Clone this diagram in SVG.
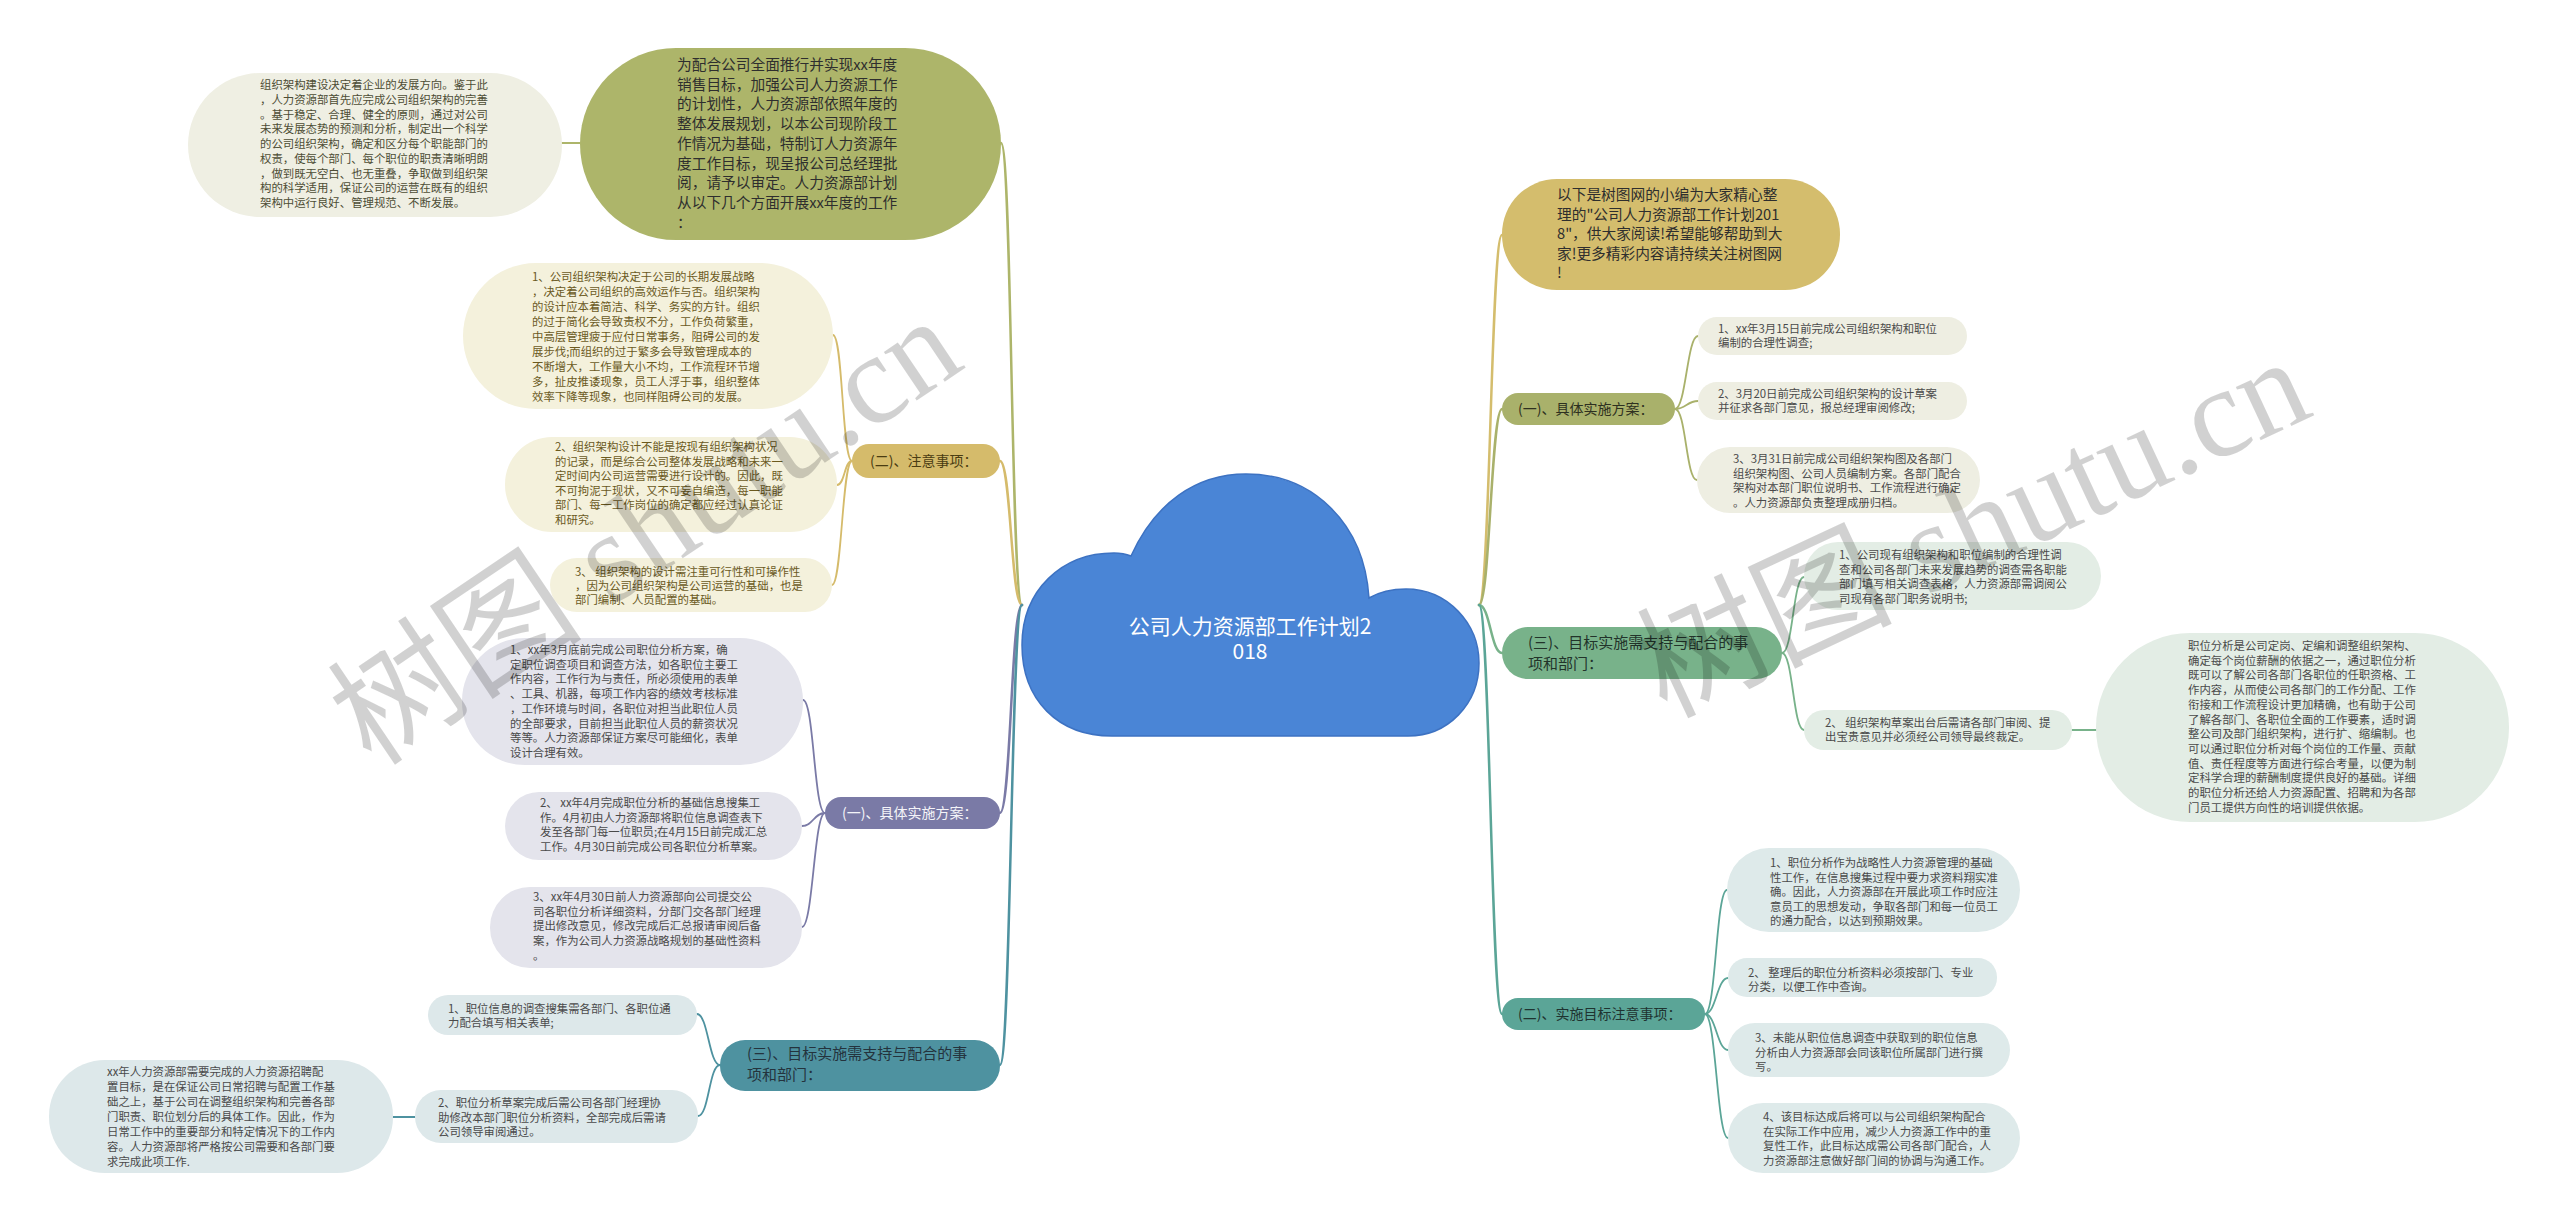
<svg xmlns="http://www.w3.org/2000/svg" width="2560" height="1223" viewBox="0 0 2560 1223">
<style>
text{font-family:"Noto Sans CJK SC","Noto Sans",sans-serif;}
.s{font-size:11.4px;fill:#4a4a4a;}
.n{font-size:11.4px;fill:#6b5a1e;}
.b{font-size:14.7px;fill:#2e2e2e;}
.lb{font-size:14px;}
.l3{font-size:15px;}
.c{fill:none;stroke-linecap:round;}
.m{stroke-width:2.5;}
.t{stroke-width:1.8;}
.wm{font-family:"Liberation Serif","Noto Sans CJK SC",serif;fill:#000;fill-opacity:0.18;}
</style>
<rect width="2560" height="1223" fill="#ffffff"/>
<g id="connectors">
<path class="c m" stroke="#adb56a" d="M1022 605 C1011 605 1012 143 1001 143"/>
<path class="c m" stroke="#d5bb6b" d="M1022 605 C1011 605 1011 461 1000 461"/>
<path class="c m" stroke="#7a7aa6" d="M1022 605 C1011 605 1011 813 1000 813"/>
<path class="c m" stroke="#4e92a0" d="M1022 605 C1011 605 1011 1065 1000 1065"/>
<path class="c m" stroke="#d4bd6d" d="M1479 605 C1490 605 1491 235 1502 235"/>
<path class="c m" stroke="#a9b16b" d="M1479 605 C1490 605 1491 409 1502 409"/>
<path class="c m" stroke="#78b28a" d="M1479 605 C1490 605 1491 653 1502 653"/>
<path class="c m" stroke="#5ba597" d="M1479 605 C1490 605 1491 1014 1502 1014"/>
<path class="c t" stroke="#adb56a" d="M562 143 L580 143"/>
<path class="c t" stroke="#d5bb6b" d="M852 461 C842 461 843 335 833 335"/>
<path class="c t" stroke="#d5bb6b" d="M852 461 C844 461 845 485 837 485"/>
<path class="c t" stroke="#d5bb6b" d="M852 461 C842 461 842 585 832 585"/>
<path class="c t" stroke="#7a7aa6" d="M825 813 C814 813 814 700 803 700"/>
<path class="c t" stroke="#7a7aa6" d="M825 813 C814 813 813 826 802 826"/>
<path class="c t" stroke="#7a7aa6" d="M825 813 C814 813 813 927 802 927"/>
<path class="c t" stroke="#4e92a0" d="M720 1065 C709 1065 708 1014 697 1014"/>
<path class="c t" stroke="#4e92a0" d="M720 1065 C709 1065 709 1116 698 1116"/>
<path class="c t" stroke="#4e92a0" d="M393 1117 L415 1117"/>
<path class="c t" stroke="#a9b16b" d="M1675 409 C1686 409 1687 336 1698 336"/>
<path class="c t" stroke="#a9b16b" d="M1675 409 C1686 409 1687 401 1698 401"/>
<path class="c t" stroke="#a9b16b" d="M1675 409 C1686 409 1686 480 1697 480"/>
<path class="c t" stroke="#78b28a" d="M1782 653 C1793 653 1793 577 1804 577"/>
<path class="c t" stroke="#78b28a" d="M1782 653 C1793 653 1793 730 1804 730"/>
<path class="c t" stroke="#78b28a" d="M2072 730 L2096 730"/>
<path class="c t" stroke="#5ba597" d="M1705 1014 C1716 1014 1716 890 1727 890"/>
<path class="c t" stroke="#5ba597" d="M1705 1014 C1716 1014 1717 978 1728 978"/>
<path class="c t" stroke="#5ba597" d="M1705 1014 C1716 1014 1717 1050 1728 1050"/>
<path class="c t" stroke="#5ba597" d="M1705 1014 C1716 1014 1717 1138 1728 1138"/>
</g>
<g id="root">
<path d="M1112 736 C1058 736 1022 700 1022 645 C1022 590 1062 553 1114 553 C1120 553 1126 554 1131 556 C1155 503 1196 474 1246 474 C1312 474 1364 522 1369 598 C1381 591 1394 589 1406 589 C1448 589 1479 624 1479 663 C1479 704 1448 736 1408 736 Z" fill="#4a85d6" stroke="#3d72c2" stroke-width="1.5"/>
<text x="1250" y="634" text-anchor="middle" style="font-size:21px;fill:#ffffff;">公司人力资源部工作计划2</text>
<text x="1250" y="659" text-anchor="middle" style="font-size:21px;fill:#ffffff;">018</text>
</g>
<g id="n-intro-left">
<rect x="188" y="73" width="374" height="144" rx="72" fill="#efefe3"/>
<text class="s" style="fill:#4d4d35"><tspan x="260" y="89">组织架构建设决定着企业的发展方向。鉴于此</tspan><tspan x="260" y="103.8">，人力资源部首先应完成公司组织架构的完善</tspan><tspan x="260" y="118.5">。基于稳定、合理、健全的原则，通过对公司</tspan><tspan x="260" y="133.3">未来发展态势的预测和分析，制定出一个科学</tspan><tspan x="260" y="148">的公司组织架构，确定和区分每个职能部门的</tspan><tspan x="260" y="162.8">权责，使每个部门、每个职位的职责清晰明朗</tspan><tspan x="260" y="177.5">，做到既无空白、也无重叠，争取做到组织架</tspan><tspan x="260" y="192.3">构的科学适用，保证公司的运营在既有的组织</tspan><tspan x="260" y="207">架构中运行良好、管理规范、不断发展。</tspan></text>
</g>
<g id="n-preface">
<rect x="580" y="48" width="421" height="192" rx="96" fill="#adb56a"/>
<text class="b"><tspan x="677" y="70">为配合公司全面推行并实现xx年度</tspan><tspan x="677" y="89.7">销售目标，加强公司人力资源工作</tspan><tspan x="677" y="109.4">的计划性，人力资源部依照年度的</tspan><tspan x="677" y="129.1">整体发展规划，以本公司现阶段工</tspan><tspan x="677" y="148.8">作情况为基础，特制订人力资源年</tspan><tspan x="677" y="168.5">度工作目标，现呈报公司总经理批</tspan><tspan x="677" y="188.2">阅，请予以审定。人力资源部计划</tspan><tspan x="677" y="207.9">从以下几个方面开展xx年度的工作</tspan><tspan x="677" y="227.6">：</tspan></text>
</g>
<g id="n-notes">
<rect x="852" y="444" width="148" height="34" rx="17" fill="#d5bb6b"/>
<text class="lb" x="870" y="466" style="fill:#4a3c12">(二)、注意事项：</text>
</g>
<g id="n-notes-1">
<rect x="463" y="263" width="370" height="146" rx="73" fill="#f4f1dc"/>
<text class="n"><tspan x="532" y="281">1、公司组织架构决定于公司的长期发展战略</tspan><tspan x="532" y="296">，决定着公司组织的高效运作与否。组织架构</tspan><tspan x="532" y="311">的设计应本着简洁、科学、务实的方针。组织</tspan><tspan x="532" y="326">的过于简化会导致责权不分，工作负荷繁重，</tspan><tspan x="532" y="341">中高层管理疲于应付日常事务，阻碍公司的发</tspan><tspan x="532" y="356">展步伐;而组织的过于繁多会导致管理成本的</tspan><tspan x="532" y="371">不断增大，工作量大小不均，工作流程环节增</tspan><tspan x="532" y="386">多，扯皮推诿现象，员工人浮于事，组织整体</tspan><tspan x="532" y="401">效率下降等现象，也同样阻碍公司的发展。</tspan></text>
</g>
<g id="n-notes-2">
<rect x="505" y="437" width="332" height="95" rx="47" fill="#f4f1dc"/>
<text class="n"><tspan x="555" y="451">2、组织架构设计不能是按现有组织架构状况</tspan><tspan x="555" y="465.6">的记录，而是综合公司整体发展战略和未来一</tspan><tspan x="555" y="480.2">定时间内公司运营需要进行设计的。因此，既</tspan><tspan x="555" y="494.8">不可拘泥于现状，又不可妄自编造，每一职能</tspan><tspan x="555" y="509.4">部门、每一工作岗位的确定都应经过认真论证</tspan><tspan x="555" y="524">和研究。</tspan></text>
</g>
<g id="n-notes-3">
<rect x="550" y="558" width="282" height="54" rx="27" fill="#f4f1dc"/>
<text class="n"><tspan x="575" y="576">3、 组织架构的设计需注重可行性和可操作性</tspan><tspan x="575" y="590">，因为公司组织架构是公司运营的基础，也是</tspan><tspan x="575" y="604">部门编制、人员配置的基础。</tspan></text>
</g>
<g id="n-plan-left">
<rect x="825" y="797" width="175" height="32" rx="16" fill="#7a7aa6"/>
<text class="lb" x="842" y="818" style="fill:#f4f4f8">(一)、具体实施方案：</text>
</g>
<g id="n-plan-left-1">
<rect x="462" y="638" width="341" height="127" rx="63" fill="#e4e4ec"/>
<text class="s"><tspan x="510" y="654">1、xx年3月底前完成公司职位分析方案，确</tspan><tspan x="510" y="668.7">定职位调查项目和调查方法，如各职位主要工</tspan><tspan x="510" y="683.4">作内容，工作行为与责任，所必须使用的表单</tspan><tspan x="510" y="698.1">、工具、机器，每项工作内容的绩效考核标准</tspan><tspan x="510" y="712.8">，工作环境与时间，各职位对担当此职位人员</tspan><tspan x="510" y="727.5">的全部要求，目前担当此职位人员的薪资状况</tspan><tspan x="510" y="742.2">等等。人力资源部保证方案尽可能细化，表单</tspan><tspan x="510" y="756.9">设计合理有效。</tspan></text>
</g>
<g id="n-plan-left-2">
<rect x="505" y="792" width="297" height="68" rx="34" fill="#e4e4ec"/>
<text class="s"><tspan x="540" y="807">2、 xx年4月完成职位分析的基础信息搜集工</tspan><tspan x="540" y="821.7">作。4月初由人力资源部将职位信息调查表下</tspan><tspan x="540" y="836.4">发至各部门每一位职员;在4月15日前完成汇总</tspan><tspan x="540" y="851.1">工作。4月30日前完成公司各职位分析草案。</tspan></text>
</g>
<g id="n-plan-left-3">
<rect x="490" y="887" width="312" height="81" rx="40" fill="#e4e4ec"/>
<text class="s"><tspan x="533" y="901">3、xx年4月30日前人力资源部向公司提交公</tspan><tspan x="533" y="915.7">司各职位分析详细资料，分部门交各部门经理</tspan><tspan x="533" y="930.4">提出修改意见，修改完成后汇总报请审阅后备</tspan><tspan x="533" y="945.1">案，作为公司人力资源战略规划的基础性资料</tspan><tspan x="533" y="959.8">。</tspan></text>
</g>
<g id="n-support-left">
<rect x="720" y="1040" width="280" height="51" rx="25" fill="#4e92a0"/>
<text class="l3" style="fill:#24333d"><tspan x="747" y="1059">(三)、目标实施需支持与配合的事</tspan><tspan x="747" y="1080">项和部门：</tspan></text>
</g>
<g id="n-support-left-1">
<rect x="428" y="995" width="269" height="40" rx="20" fill="#dde8ea"/>
<text class="s"><tspan x="448" y="1013">1、职位信息的调查搜集需各部门、各职位通</tspan><tspan x="448" y="1027">力配合填写相关表单;</tspan></text>
</g>
<g id="n-support-left-2">
<rect x="415" y="1090" width="283" height="53" rx="26" fill="#dde8ea"/>
<text class="s"><tspan x="438" y="1107">2、职位分析草案完成后需公司各部门经理协</tspan><tspan x="438" y="1121.5">助修改本部门职位分析资料，全部完成后需请</tspan><tspan x="438" y="1136">公司领导审阅通过。</tspan></text>
</g>
<g id="n-support-left-2a">
<rect x="49" y="1060" width="344" height="113" rx="56" fill="#dde8ea"/>
<text class="s"><tspan x="107" y="1076">xx年人力资源部需要完成的人力资源招聘配</tspan><tspan x="107" y="1091">置目标，是在保证公司日常招聘与配置工作基</tspan><tspan x="107" y="1106">础之上，基于公司在调整组织架构和完善各部</tspan><tspan x="107" y="1121">门职责、职位划分后的具体工作。因此，作为</tspan><tspan x="107" y="1136">日常工作中的重要部分和特定情况下的工作内</tspan><tspan x="107" y="1151">容。人力资源部将严格按公司需要和各部门要</tspan><tspan x="107" y="1166">求完成此项工作.</tspan></text>
</g>
<g id="n-intro-right">
<rect x="1502" y="179" width="338" height="111" rx="55" fill="#d4bd6d"/>
<text class="b"><tspan x="1557" y="200">以下是树图网的小编为大家精心整</tspan><tspan x="1557" y="219.6">理的"公司人力资源部工作计划201</tspan><tspan x="1557" y="239.2">8"，供大家阅读!希望能够帮助到大</tspan><tspan x="1557" y="258.8">家!更多精彩内容请持续关注树图网</tspan><tspan x="1557" y="278.4">!</tspan></text>
</g>
<g id="n-plan-right">
<rect x="1502" y="393" width="173" height="32" rx="16" fill="#a9b16b"/>
<text class="lb" x="1518" y="414" style="fill:#2e3020">(一)、具体实施方案：</text>
</g>
<g id="n-plan-right-1">
<rect x="1698" y="317" width="269" height="38" rx="19" fill="#eeeee2"/>
<text class="s"><tspan x="1718" y="333">1、xx年3月15日前完成公司组织架构和职位</tspan><tspan x="1718" y="347">编制的合理性调查;</tspan></text>
</g>
<g id="n-plan-right-2">
<rect x="1698" y="382" width="269" height="38" rx="19" fill="#eeeee2"/>
<text class="s"><tspan x="1718" y="398">2、3月20日前完成公司组织架构的设计草案</tspan><tspan x="1718" y="412">并征求各部门意见，报总经理审阅修改;</tspan></text>
</g>
<g id="n-plan-right-3">
<rect x="1697" y="447" width="283" height="66" rx="33" fill="#eeeee2"/>
<text class="s"><tspan x="1733" y="463">3、3月31日前完成公司组织架构图及各部门</tspan><tspan x="1733" y="477.7">组织架构图、公司人员编制方案。各部门配合</tspan><tspan x="1733" y="492.4">架构对本部门职位说明书、工作流程进行确定</tspan><tspan x="1733" y="507.1">。人力资源部负责整理成册归档。</tspan></text>
</g>
<g id="n-support-right">
<rect x="1502" y="627" width="280" height="52" rx="26" fill="#78b28a"/>
<text class="l3" style="fill:#22332a"><tspan x="1528" y="648">(三)、目标实施需支持与配合的事</tspan><tspan x="1528" y="669">项和部门：</tspan></text>
</g>
<g id="n-support-right-1">
<rect x="1804" y="542" width="297" height="68" rx="34" fill="#e3ede5"/>
<text class="s"><tspan x="1839" y="559">1、公司现有组织架构和职位编制的合理性调</tspan><tspan x="1839" y="573.5">查和公司各部门未来发展趋势的调查需各职能</tspan><tspan x="1839" y="588">部门填写相关调查表格，人力资源部需调阅公</tspan><tspan x="1839" y="602.5">司现有各部门职务说明书;</tspan></text>
</g>
<g id="n-support-right-2">
<rect x="1804" y="710" width="268" height="40" rx="20" fill="#e3ede5"/>
<text class="s"><tspan x="1825" y="727">2、 组织架构草案出台后需请各部门审阅、提</tspan><tspan x="1825" y="741">出宝贵意见并必须经公司领导最终裁定。</tspan></text>
</g>
<g id="n-support-right-2a">
<rect x="2096" y="633" width="413" height="189" rx="94" fill="#e3ede5"/>
<text class="s"><tspan x="2188" y="650">职位分析是公司定岗、定编和调整组织架构、</tspan><tspan x="2188" y="664.7">确定每个岗位薪酬的依据之一，通过职位分析</tspan><tspan x="2188" y="679.4">既可以了解公司各部门各职位的任职资格、工</tspan><tspan x="2188" y="694.1">作内容，从而使公司各部门的工作分配、工作</tspan><tspan x="2188" y="708.8">衔接和工作流程设计更加精确，也有助于公司</tspan><tspan x="2188" y="723.5">了解各部门、各职位全面的工作要素，适时调</tspan><tspan x="2188" y="738.2">整公司及部门组织架构，进行扩、缩编制。也</tspan><tspan x="2188" y="752.9">可以通过职位分析对每个岗位的工作量、贡献</tspan><tspan x="2188" y="767.6">值、责任程度等方面进行综合考量，以便为制</tspan><tspan x="2188" y="782.3">定科学合理的薪酬制度提供良好的基础。详细</tspan><tspan x="2188" y="797">的职位分析还给人力资源配置、招聘和为各部</tspan><tspan x="2188" y="811.7">门员工提供方向性的培训提供依据。</tspan></text>
</g>
<g id="n-notice-right">
<rect x="1502" y="998" width="203" height="32" rx="16" fill="#5ba597"/>
<text class="lb" x="1518" y="1019" style="fill:#1f3330">(二)、实施目标注意事项：</text>
</g>
<g id="n-notice-right-1">
<rect x="1727" y="848" width="293" height="84" rx="42" fill="#deeaea"/>
<text class="s"><tspan x="1770" y="867">1、职位分析作为战略性人力资源管理的基础</tspan><tspan x="1770" y="881.5">性工作，在信息搜集过程中要力求资料翔实准</tspan><tspan x="1770" y="896">确。因此，人力资源部在开展此项工作时应注</tspan><tspan x="1770" y="910.5">意员工的思想发动，争取各部门和每一位员工</tspan><tspan x="1770" y="925">的通力配合，以达到预期效果。</tspan></text>
</g>
<g id="n-notice-right-2">
<rect x="1728" y="958" width="269" height="39" rx="19" fill="#deeaea"/>
<text class="s"><tspan x="1748" y="977">2、 整理后的职位分析资料必须按部门、专业</tspan><tspan x="1748" y="990.5">分类，以便工作中查询。</tspan></text>
</g>
<g id="n-notice-right-3">
<rect x="1728" y="1023" width="282" height="54" rx="27" fill="#deeaea"/>
<text class="s"><tspan x="1755" y="1042">3、未能从职位信息调查中获取到的职位信息</tspan><tspan x="1755" y="1056.5">分析由人力资源部会同该职位所属部门进行撰</tspan><tspan x="1755" y="1071">写。</tspan></text>
</g>
<g id="n-notice-right-4">
<rect x="1728" y="1103" width="292" height="70" rx="35" fill="#deeaea"/>
<text class="s"><tspan x="1763" y="1121">4、该目标达成后将可以与公司组织架构配合</tspan><tspan x="1763" y="1135.5">在实际工作中应用，减少人力资源工作中的重</tspan><tspan x="1763" y="1150">复性工作，此目标达成需公司各部门配合，人</tspan><tspan x="1763" y="1164.5">力资源部注意做好部门间的协调与沟通工作。</tspan></text>
</g>
<g id="watermarks">
<text class="wm" x="0" y="0" font-size="128" transform="translate(372 768) rotate(-34)">树图 shutu.cn</text>
<text class="wm" x="0" y="0" font-size="128" transform="translate(1665 718) rotate(-25)">树图 shutu.cn</text>
</g>
</svg>
